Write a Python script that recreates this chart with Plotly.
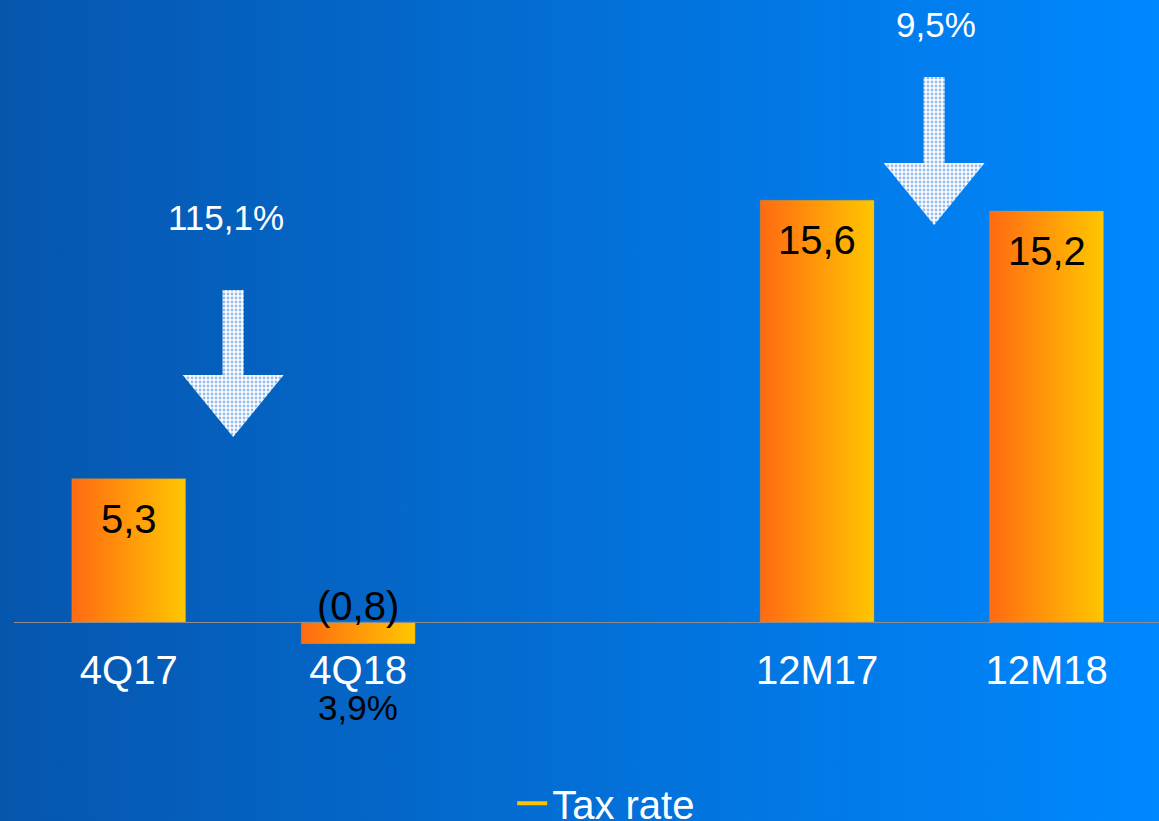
"""
Net income bars with tax-rate legend - corporate blue slide style
"""
import plotly.graph_objects as go

# ── Data ──────────────────────────────────────────────────────
categories = ["4Q17", "4Q18", "", "12M17", "12M18"]
net_income = [5.3, -0.8, None, 15.6, 15.2]
tax_rate_label = "3,9%"
tax_rate = [None, 3.9, None, None, None]
change_labels = ["115,1%", "9,5%"]
change_between = [(0, 1), (3, 4)]

# ── Theme ─────────────────────────────────────────────────────
FONT = "Liberation Sans, Arial, sans-serif"
BG_LEFT = "#0656ad"
BG_RIGHT = "#0088ff"
BAR_LEFT = "#ff6a12"
BAR_RIGHT = "#ffc600"
TAX_COLOR = "#ffc000"
AXIS_COLOR = "#8c8c8c"
W, H = 1159, 821

BAR_HALF = 0.248
Y_RANGE = [-5.105, 23.01]


def fmt(v):
    s = f"{abs(v):.1f}".replace(".", ",")
    return f"({s})" if v < 0 else s


fig = go.Figure()

# background gradient on a full-page helper axis
fig.add_trace(go.Scatter(
    x=[0, 1, 1, 0, 0], y=[0, 0, 1, 1, 0],
    mode="none", fill="toself",
    fillgradient=dict(type="horizontal",
                      colorscale=[[0, BG_LEFT], [1, BG_RIGHT]]),
    hoverinfo="skip", showlegend=False, xaxis="x", yaxis="y",
))

# bars (filled shapes so they can carry the orange→yellow gradient)
annotations = []
for i, v in enumerate(net_income):
    if v is None:
        continue
    fig.add_trace(go.Scatter(
        x=[i - BAR_HALF, i + BAR_HALF, i + BAR_HALF, i - BAR_HALF, i - BAR_HALF],
        y=[0, 0, v, v, 0],
        mode="lines", line=dict(width=0.6, color="rgba(200,160,40,0.6)"),
        fill="toself",
        fillgradient=dict(type="horizontal",
                          colorscale=[[0, BAR_LEFT], [1, BAR_RIGHT]]),
        name=categories[i], showlegend=False,
        xaxis="x2", yaxis="y2",
    ))
    annotations.append(dict(
        x=i, y=v if v > 0 else 0, xref="x2", yref="y2",
        text=fmt(v), showarrow=False, yanchor="middle",
        yshift=-40 if v > 0 else 16,
        font=dict(family=FONT, size=40, color="black"),
    ))

# dotted down-arrows with change labels
ARROW_GEOM = [  # (shaft top, head base, tip) in value units
    (12.28, 9.14, 6.84),
    (20.16, 16.98, 14.69),
]
for (a, b), label, (top, base, tip) in zip(change_between, change_labels, ARROW_GEOM):
    cx = (a + b) / 2 - 0.045 + (0.055 if a == 3 else 0)
    sw, hw = 0.046, 0.22
    fig.add_trace(go.Scatter(
        x=[cx - sw, cx + sw, cx + sw, cx + hw, cx, cx - hw, cx - sw, cx - sw],
        y=[top, top, base, base, tip, base, base, top],
        mode="none", fill="toself", fillcolor="white",
        fillpattern=dict(shape=".", fgcolor="#2a78d6",
                         bgcolor="white", size=4, solidity=0.4),
        hoverinfo="skip", showlegend=False, xaxis="x2", yaxis="y2",
    ))
    annotations.append(dict(
        x=cx - 0.03 if a == 0 else cx + 0.01, y=top + (2.67 if a == 0 else 1.93),
        xref="x2", yref="y2", text=label, showarrow=False,
        font=dict(family=FONT, size=35, color="white"),
    ))

# tax rate series (legend entry + label)
fig.add_trace(go.Scatter(
    x=list(range(len(categories))), y=tax_rate,
    mode="lines", line=dict(color=TAX_COLOR, width=4),
    name="Tax rate", xaxis="x2", yaxis="y3",
))
annotations.append(dict(
    x=1, y=-3.18, xref="x2", yref="y2", text=tax_rate_label,
    showarrow=False, font=dict(family=FONT, size=35, color="black"),
))

fig.update_layout(
    width=W, height=H,
    margin=dict(l=0, r=0, t=0, b=0, autoexpand=False),
    paper_bgcolor=BG_RIGHT, plot_bgcolor="rgba(0,0,0,0)",
    font=dict(family=FONT, color="white"),
    xaxis=dict(domain=[0, 1], range=[0, 1], visible=False, fixedrange=True),
    yaxis=dict(domain=[0, 1], range=[0, 1], visible=False, fixedrange=True),
    xaxis2=dict(
        domain=[14 / W, 1], range=[-0.5, 4.49],
        anchor="free", position=1 - 622 / H,
        tickvals=list(range(len(categories))), ticktext=categories,
        tickfont=dict(family=FONT, size=40, color="white"),
        ticks="", ticklabelstandoff=13,
        showline=True, linecolor=AXIS_COLOR, linewidth=1,
        showgrid=False, zeroline=False, fixedrange=True,
    ),
    yaxis2=dict(domain=[61 / H, 1], range=Y_RANGE, anchor="x2",
                visible=False, fixedrange=True),
    yaxis3=dict(overlaying="y2", range=[0, 120], visible=False),
    legend=dict(orientation="h", x=0.523, xanchor="center", y=-0.018,
                yanchor="bottom", bgcolor="rgba(0,0,0,0)",
                font=dict(family=FONT, size=40, color="white")),
    annotations=annotations,
)

fig.write_html("out.html", config={"displayModeBar": False},
               post_script="document.body.style.margin='0';")
